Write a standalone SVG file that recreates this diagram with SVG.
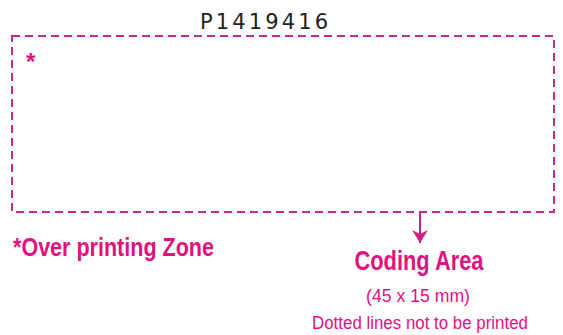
<svg xmlns="http://www.w3.org/2000/svg" width="563" height="335" viewBox="0 0 563 335">
<style>
.dash{fill:none;stroke:#c42a8e;stroke-width:2;stroke-dasharray:8,5}
.pink{fill:#e2117f;font-family:"Liberation Sans",Arial,sans-serif}
.b{font-weight:bold}
</style>
<defs>
<marker id="ah" markerWidth="14" markerHeight="16" refX="13" refY="8" orient="auto" markerUnits="userSpaceOnUse" viewBox="0 0 14 16">
<path d="M0,0 L4,8 L0,16 L13,8 Z" fill="#d01f86"/>
</marker>
</defs>
<rect width="563" height="335" fill="#fff"/>
<g id="title"><text x="264" y="29" text-anchor="middle" font-family="'DejaVu Sans',sans-serif" font-size="21" fill="#222" textLength="128" lengthAdjust="spacing">P1419416</text></g>
<g id="coding-box">
<rect class="dash" x="12" y="36" width="542" height="176"/>
<text class="pink b" x="26" y="70" font-size="24">*</text>
</g>
<g id="connectors">
<line x1="420" y1="212" x2="420" y2="243" stroke="#d01f86" stroke-width="2" marker-end="url(#ah)"/>
</g>
<g id="overprint"><text class="pink b" x="13" y="256" font-size="25" textLength="201" lengthAdjust="spacingAndGlyphs">*Over printing Zone</text></g>
<g id="coding-label">
<text class="pink b" x="419" y="270" text-anchor="middle" font-size="27" textLength="129" lengthAdjust="spacingAndGlyphs">Coding Area</text>
<text class="pink" x="418" y="302" text-anchor="middle" font-size="18" textLength="104" lengthAdjust="spacingAndGlyphs">(45 x 15 mm)</text>
<text class="pink" x="420" y="329" text-anchor="middle" font-size="18" textLength="216" lengthAdjust="spacingAndGlyphs">Dotted lines not to be printed</text>
</g>
</svg>
